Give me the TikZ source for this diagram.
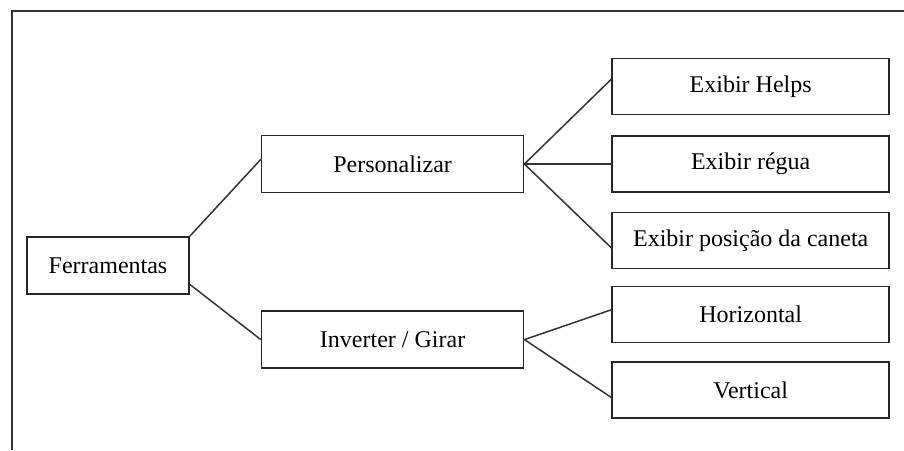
\documentclass[tikz,border=0pt]{standalone}
\usepackage{fontspec}
\setmainfont{Liberation Serif}
\usetikzlibrary{positioning}
\newcommand{\MenuSize}{0.5}

\begin{document}
\begin{tikzpicture}[
		box/.style={draw=black!85, line width=0.8pt, inner sep=0pt, font=\fontsize{12}{14}\selectfont, text=black},
		midbox/.style={box, minimum width=\MenuSize*262pt, minimum height=\MenuSize*57pt},
		leafbox/.style={box, minimum width=\MenuSize*277pt, minimum height=\MenuSize*56pt},
		link/.style={draw=black!80, line width=0.75pt}
	]
	\useasboundingbox (0,0) rectangle (\MenuSize*904pt, -\MenuSize*450pt);
	\coordinate (f1) at (\MenuSize*12pt, -\MenuSize*450pt);
	\coordinate (f2) at (\MenuSize*12pt, -\MenuSize*11pt);
	\coordinate (f3) at (\MenuSize*904pt, -\MenuSize*11pt);
	\draw [link] (f1) -- (f2) -- (f3);

	\node [box, minimum width=\MenuSize*162pt, minimum height=\MenuSize*57pt] (ferr) at (\MenuSize*108pt, -\MenuSize*265.5pt) {Ferramentas};
	\node [midbox, right=\MenuSize*71pt of ferr, yshift=\MenuSize*101.5pt] (pers) {Personalizar};
	\node [midbox, below=\MenuSize*117pt of pers] (inv) {Inverter / Girar};
	\node [leafbox, right=\MenuSize*87pt of pers] (regua) {Exibir régua};
	\node [leafbox, above=\MenuSize*20pt of regua] (helps) {Exibir Helps};
	\node [leafbox, below=\MenuSize*19pt of regua] (pos) {Exibir posição da caneta};
	\node [leafbox, right=\MenuSize*87pt of inv, yshift=\MenuSize*25pt] (hor) {Horizontal};
	\node [leafbox, below=\MenuSize*18pt of hor] (vert) {Vertical};

	\draw [link] (ferr.north east) -- (pers.178);
	\draw [link] (ferr.-13.5) -- (inv.west);
	\draw [link] (pers.east) -- (helps.177);
	\draw [link] (pers.east) -- (regua.west);
	\draw [link] (pers.east) -- (pos.183);
	\draw [link] (inv.east) -- (hor.178);
	\draw [link] (inv.east) -- (vert.183);
\end{tikzpicture}
\end{document}
